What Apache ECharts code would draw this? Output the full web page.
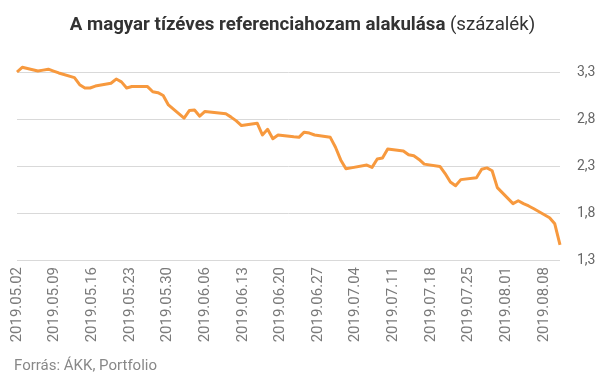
<!DOCTYPE html>
<html>
<head>
<meta charset="utf-8">
<script src="https://cdn.jsdelivr.net/npm/echarts@6/dist/echarts.min.js"></script>
<style>
  html, body { margin: 0; padding: 0; background: #fff; }
  #container { width: 605px; height: 378px; }
</style>
</head>
<body>
<div id="container"></div>
<script>
const dates = [
  '2019.05.02', '2019.05.03', '2019.05.06', '2019.05.07', '2019.05.08', '2019.05.09', '2019.05.10',
  '2019.05.13', '2019.05.14', '2019.05.15', '2019.05.16', '2019.05.17',
  '2019.05.20', '2019.05.21', '2019.05.22', '2019.05.23', '2019.05.24',
  '2019.05.27', '2019.05.28', '2019.05.29', '2019.05.30', '2019.05.31',
  '2019.06.03', '2019.06.04', '2019.06.05', '2019.06.06', '2019.06.07',
  '2019.06.11', '2019.06.12', '2019.06.13', '2019.06.14',
  '2019.06.17', '2019.06.18', '2019.06.19', '2019.06.20', '2019.06.21',
  '2019.06.24', '2019.06.25', '2019.06.26', '2019.06.27', '2019.06.28',
  '2019.07.01', '2019.07.02', '2019.07.03', '2019.07.04', '2019.07.05',
  '2019.07.08', '2019.07.09', '2019.07.10', '2019.07.11', '2019.07.12',
  '2019.07.15', '2019.07.16', '2019.07.17', '2019.07.18', '2019.07.19',
  '2019.07.22', '2019.07.23', '2019.07.24', '2019.07.25', '2019.07.26',
  '2019.07.29', '2019.07.30', '2019.07.31', '2019.08.01', '2019.08.02',
  '2019.08.05', '2019.08.06', '2019.08.07', '2019.08.08', '2019.08.09',
  '2019.08.12', '2019.08.13', '2019.08.14'
]
const yields = [
  3.30, 3.35, 3.31, 3.32, 3.33, 3.31, 3.29,
  3.24, 3.165, 3.13, 3.13, 3.15,
  3.18, 3.225, 3.195, 3.13, 3.145,
  3.145, 3.09, 3.08, 3.05, 2.95,
  2.81, 2.89, 2.895, 2.83, 2.88,
  2.855, 2.82, 2.78, 2.73,
  2.755, 2.63, 2.69, 2.59, 2.63,
  2.61, 2.605, 2.66, 2.65, 2.63,
  2.605, 2.50, 2.365, 2.27, 2.28,
  2.31, 2.285, 2.375, 2.385, 2.48,
  2.46, 2.42, 2.41, 2.37, 2.32,
  2.295, 2.22, 2.13, 2.09, 2.155,
  2.175, 2.265, 2.28, 2.25, 2.07,
  1.90, 1.93, 1.90, 1.875, 1.845,
  1.75, 1.685, 1.46
]
const yTicks = [1.3, 1.8, 2.3, 2.8, 3.3]
// tick labels sit on a weekly axis that spans slightly fewer days than the data axis
const labelSpanDays = 101

const DAY = 86400000
const toTime = (s) => {
  const p = s.split('.').map(Number)
  return Date.UTC(p[0], p[1] - 1, p[2])
}
const t0 = toTime(dates[0])
const points = dates.map((d, i) => [(toTime(d) - t0) / DAY, yields[i]])
const lastDay = points[points.length - 1][0]
const pad = (n) => (n < 10 ? '0' : '') + n

const myChart = echarts.init(document.getElementById('container'))

const option = {
  backgroundColor: '#fff',
  animation: false,
  textStyle: { fontFamily: 'Roboto' },
  title: {
    text: '{b|A magyar tízéves referenciahozam alakulása} {n|(százalék)}',
    left: 'center',
    top: 11,
    textStyle: {
      rich: {
        b: { fontFamily: 'Roboto', fontWeight: 'bold', fontSize: 18.7, color: '#333' },
        n: { fontFamily: 'Roboto', fontWeight: 'normal', fontSize: 18.7, color: '#333' }
      }
    }
  },
  graphic: [{
    type: 'text',
    left: 14,
    top: 359,
    style: {
      text: 'Forrás: ÁKK, Portfolio',
      fill: '#888',
      font: '15px Roboto'
    }
  }],
  grid: {
    left: 17,
    right: 45,
    top: 72,
    bottom: 118
  },
  xAxis: [{
    type: 'value',
    min: 0,
    max: lastDay,
    show: true,
    axisLine: { show: false },
    axisTick: { show: false },
    splitLine: { show: false },
    axisLabel: { show: false }
  }, {
    type: 'value',
    position: 'bottom',
    min: 0,
    max: labelSpanDays,
    interval: 7,
    axisLine: { show: false },
    axisTick: { show: false },
    splitLine: { show: false },
    axisLabel: {
      rotate: 90,
      margin: 7,
      color: '#7a7a7a',
      fontSize: 15,
      fontFamily: 'Roboto',
      formatter: (v) => {
        if (v % 7 !== 0) return ''
        const d = new Date(t0 + v * DAY)
        return d.getUTCFullYear() + '.' + pad(d.getUTCMonth() + 1) + '.' + pad(d.getUTCDate())
      }
    }
  }],
  yAxis: {
    type: 'value',
    position: 'right',
    min: yTicks[0],
    max: yTicks[yTicks.length - 1],
    interval: 0.5,
    axisLine: { show: false },
    axisTick: { show: false },
    axisLabel: {
      margin: 17,
      color: '#666',
      fontSize: 14,
      fontFamily: 'Roboto',
      formatter: (v) => v.toFixed(1).replace('.', ',')
    },
    splitLine: {
      show: true,
      lineStyle: { color: '#d9d9d9', width: 1 }
    }
  },
  series: [{
    type: 'line',
    xAxisIndex: 0,
    data: points,
    clip: false,
    showSymbol: false,
    symbol: 'none',
    lineStyle: { color: '#f7993e', width: 3, join: 'round' },
    itemStyle: { color: '#f7993e' }
  }]
}

myChart.setOption(option)
</script>
</body>
</html>
